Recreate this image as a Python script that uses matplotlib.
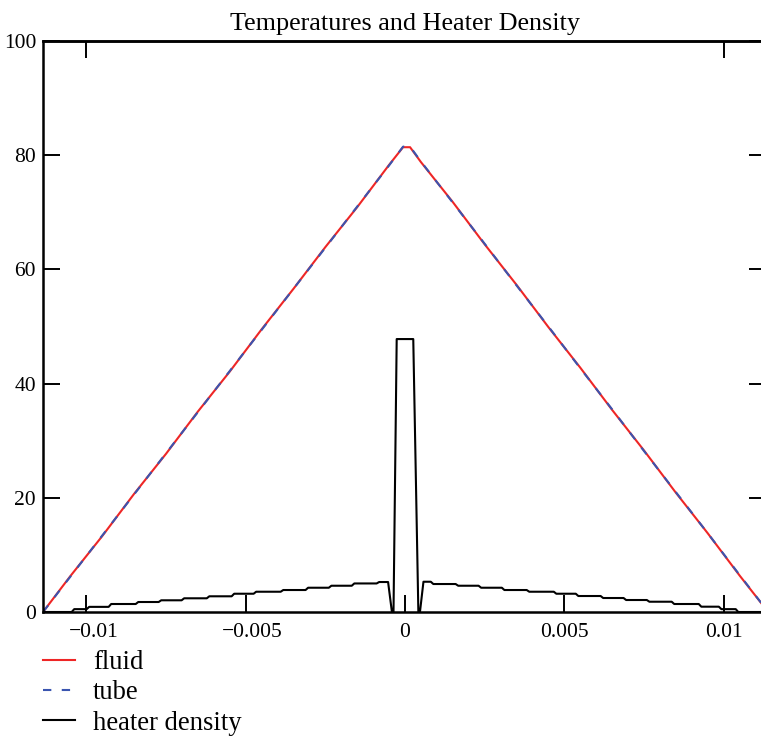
import matplotlib
matplotlib.use("Agg")
import matplotlib.pyplot as plt
import matplotlib.transforms as mtransforms
from matplotlib.ticker import FixedLocator, FuncFormatter

# values
x_fluid = [-0.01136, -0.0105, -0.0095, -0.0085, -0.0075, -0.0065, -0.0055, -0.0045,
           -0.0035, -0.0025, -0.0015, -0.0005, -0.00006, 0.00016, 0.0005, 0.0015,
           0.0025, 0.0035, 0.0045, 0.0055, 0.0065, 0.0075, 0.0085, 0.0095, 0.0105, 0.0114]
fluid = [0.0, 6.3, 13.3, 20.7, 27.7, 35.1, 42.1, 49.5, 56.6, 63.9, 70.9, 78.3, 81.4,
         81.4, 78.8, 71.8, 64.4, 57.3, 49.9, 42.8, 35.4, 28.3, 20.9, 13.8, 6.4, 0.0]
tube = [0.0, 6.2, 13.4, 20.6, 27.8, 35.0, 42.2, 49.4, 56.6, 63.8, 71.0, 78.2, 81.5,
        81.5, 78.9, 71.7, 64.5, 57.2, 50.0, 42.7, 35.5, 28.2, 21.0, 13.8, 6.5, 0.0]

# heater density: step edges and levels on each side of the centre peak
heat_edges_left = [-0.01042, -0.00995, -0.00926, -0.00841, -0.00769, -0.00697, -0.00618,
                   -0.00540, -0.00471, -0.00386, -0.00308, -0.00235, -0.00163, -0.00085]
heat_levels_left = [0.5, 0.9, 1.4, 1.75, 2.05, 2.4, 2.75, 3.2, 3.55, 3.85, 4.25, 4.6, 5.0, 5.25]
heat_x_centre = [-0.00053, -0.00041, -0.00036, -0.00026, 0.00026, 0.00042, 0.00047, 0.00058]
heat_y_centre = [5.25, 0.0, 0.0, 47.8, 47.8, 0.0, 0.0, 5.3]
heat_edges_right = [0.00085, 0.00163, 0.00235, 0.00308, 0.00386, 0.00471, 0.00540,
                    0.00618, 0.00690, 0.00763, 0.00841, 0.00926, 0.00989, 0.01042]
heat_levels_right = [4.9, 4.6, 4.25, 3.85, 3.55, 3.2, 2.8, 2.45, 2.1, 1.8, 1.4, 0.93, 0.5, 0.0]

x_ticks = [-0.01, -0.005, 0, 0.005, 0.01]
y_ticks = [0, 20, 40, 60, 80, 100]

# build heater polyline (steps have a short ramp like the original)
ramp = 0.00004
hx = [-0.01136]
hy = [0.0]
prev = 0.0
for e, lv in zip(heat_edges_left, heat_levels_left):
    hx += [e - ramp, e + ramp]
    hy += [prev, lv]
    prev = lv
hx += heat_x_centre
hy += heat_y_centre
prev = heat_y_centre[-1]
for e, lv in zip(heat_edges_right, heat_levels_right):
    hx += [e - ramp, e + ramp]
    hy += [prev, lv]
    prev = lv
hx.append(0.01136)
hy.append(0.0)

plt.rcParams['font.family'] = ['Liberation Serif', 'DejaVu Serif']
plt.rcParams['axes.unicode_minus'] = True

fig = plt.figure(figsize=(7.61, 7.36), dpi=100)
ax = fig.add_axes([43 / 761, 124 / 736, 723 / 761, 571 / 736])

ax.plot(x_fluid, fluid, color='#ee2626', lw=1.5, label='fluid')
ax.plot(x_fluid, tube, color='#3a55b0', lw=1.5, dashes=(4, 5), label='tube')
ax.plot(hx, hy, color='black', lw=1.5, label='heater density')

ax.set_xlim(-0.01136, 0.01133)
ax.set_ylim(0, 100)
ax.set_xticks(x_ticks)
ax.set_yticks(y_ticks)
ax.xaxis.set_major_formatter(FuncFormatter(lambda v, p: '0' if abs(v) < 1e-12 else ('%g' % v).replace('-', '\u2212')))
ax.tick_params(axis='both', direction='in', length=12.5, width=1.4, labelsize=15.5, color='black')
ax.tick_params(axis='x', pad=8)
ax.tick_params(axis='y', pad=5, right=True)
for s in ax.spines.values():
    s.set_linewidth(1.8)

# negative x labels sit a little to the right of their ticks, as in the original
shift = mtransforms.ScaledTranslation(7 / 100, 0, fig.dpi_scale_trans)
for tk, v in zip(ax.xaxis.get_major_ticks(), x_ticks):
    if v < 0:
        tk.label1.set_transform(tk.label1.get_transform() + shift)

top = ax.secondary_xaxis('top')
top.xaxis.set_major_locator(FixedLocator([-0.01, 0.01]))
top.tick_params(direction='in', length=12.5, width=1.4, labeltop=False)
top.spines['top'].set_linewidth(1.8)

ax.set_title('Temperatures and Heater Density', fontsize=18.8, pad=8)

fig.legend(loc='upper left', bbox_to_anchor=(43 / 761, 1 - 650 / 736), frameon=False,
           fontsize=19.2, handlelength=1.2, handletextpad=0.67, labelspacing=0.2,
           borderpad=0, borderaxespad=0)

fig.savefig('out.png', dpi=100)
